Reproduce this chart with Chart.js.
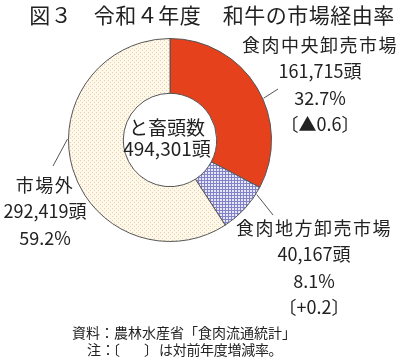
<!DOCTYPE html>
<html>
<head>
<meta charset="utf-8">
<script src="https://cdn.jsdelivr.net/npm/chart.js@4/dist/chart.umd.min.js"></script>
<style>
  html, body { margin: 0; padding: 0; background: #fff; }
  #wrap { position: relative; width: 400px; height: 363px; }
</style>
</head>
<body>
<div id="wrap"><canvas id="myChart" width="400" height="363"></canvas></div>
<script>
const categories = ['食肉中央卸売市場', '食肉地方卸売市場', '市場外'];
const heads = [161715, 40167, 292419];
const shares = ['32.7%', '8.1%', '59.2%'];
const changes = ['〔▲0.6〕', '〔+0.2〕', null];
const total = 494301;

const FONT = '"Noto Sans CJK JP", "Noto Sans", sans-serif';

const makePattern = (bg, draw, size) => {
    const c = document.createElement('canvas');
    c.width = size; c.height = size;
    const g = c.getContext('2d');
    g.fillStyle = bg;
    g.fillRect(0, 0, size, size);
    draw(g);
    return g.createPattern(c, 'repeat');
};

const gridPattern = makePattern('#e6e6f6', (g) => {
    g.fillStyle = '#8282c8';
    g.fillRect(0, 0, 3, 1);
    g.fillRect(0, 0, 1, 3);
}, 3);

const dotPattern = makePattern('#fff8e8', (g) => {
    g.fillStyle = '#e2d2b4';
    g.fillRect(0, 0, 1, 1);
    g.fillRect(2, 2, 1, 1);
}, 4);

// label layout: [x, y of first line], leader: slice fraction + end point
const labelPos = [[320, 45], [314, 228], [45, 185]];
const leaders = [
    { frac: 0.56, to: [278, 89] },
    { frac: 0.15, to: [273, 215] },
    { frac: 0.58, to: [53, 166] },
];

// draw a string so its ink starts at x
const textFrom = (ctx, t, x, y) => {
    const m = ctx.measureText(t);
    ctx.fillText(t, x + m.actualBoundingBoxLeft, y);
};

const labelsPlugin = {
    id: 'labels',
    afterDraw(chart) {
        const ctx = chart.ctx;
        const arcs = chart.getDatasetMeta(0).data;
        ctx.save();

        // leader lines
        ctx.strokeStyle = '#555';
        ctx.lineWidth = 1;
        arcs.forEach((arc, i) => {
            const a = arc.startAngle + (arc.endAngle - arc.startAngle) * leaders[i].frac;
            const r = arc.outerRadius + 1;
            ctx.beginPath();
            ctx.moveTo(arc.x + Math.cos(a) * r, arc.y + Math.sin(a) * r);
            ctx.lineTo(leaders[i].to[0], leaders[i].to[1]);
            ctx.stroke();
        });

        ctx.fillStyle = '#222';
        ctx.textAlign = 'center';
        ctx.textBaseline = 'middle';

        // title
        ctx.font = '21px ' + FONT;
        ctx.letterSpacing = '0.5px';
        ctx.fillText('図３　令和４年度　和牛の市場経由率', 212, 15);

        // slice labels
        categories.forEach((name, i) => {
            const [x, y] = labelPos[i];
            const lines = [name, heads[i].toLocaleString('en-US') + '頭', shares[i]];
            if (changes[i]) lines.push(changes[i]);
            lines.forEach((t, k) => {
                ctx.font = '18px ' + FONT;
                ctx.letterSpacing = k === 0 ? '1.5px' : '0px';
                ctx.fillText(t, x, y + k * 26.5);
            });
        });

        // centre
        const { x: cx, y: cy } = arcs[0];
        ctx.font = '19px ' + FONT;
        ctx.letterSpacing = '0px';
        ctx.fillText('と畜頭数', cx - 3, cy - 12);
        ctx.fillText(total.toLocaleString('en-US') + '頭', cx - 3, cy + 9);

        // footer
        ctx.font = '14px ' + FONT;
        ctx.textAlign = 'left';
        ctx.fillText('資料：農林水産省「食肉流通統計」', 72, 333);
        textFrom(ctx, '注：', 87, 350);
        textFrom(ctx, '〔', 115, 350);
        textFrom(ctx, '〕', 144, 350);
        ctx.letterSpacing = '-0.3px';
        textFrom(ctx, 'は対前年度増減率。', 160, 350);

        ctx.restore();
    }
};

const ctx = document.getElementById('myChart');
new Chart(ctx, {
    type: 'doughnut',
    data: {
        labels: categories,
        datasets: [{
            data: heads,
            backgroundColor: ['#e5411c', gridPattern, dotPattern],
            borderColor: '#555',
            borderWidth: 1,
        }]
    },
    options: {
        responsive: false,
        animation: false,
        cutout: '46%',
        layout: { padding: { left: 68, right: 128, top: 38, bottom: 121 } },
        plugins: {
            legend: { display: false },
            tooltip: { enabled: false },
        },
    },
    plugins: [labelsPlugin],
});
</script>
</body>
</html>
